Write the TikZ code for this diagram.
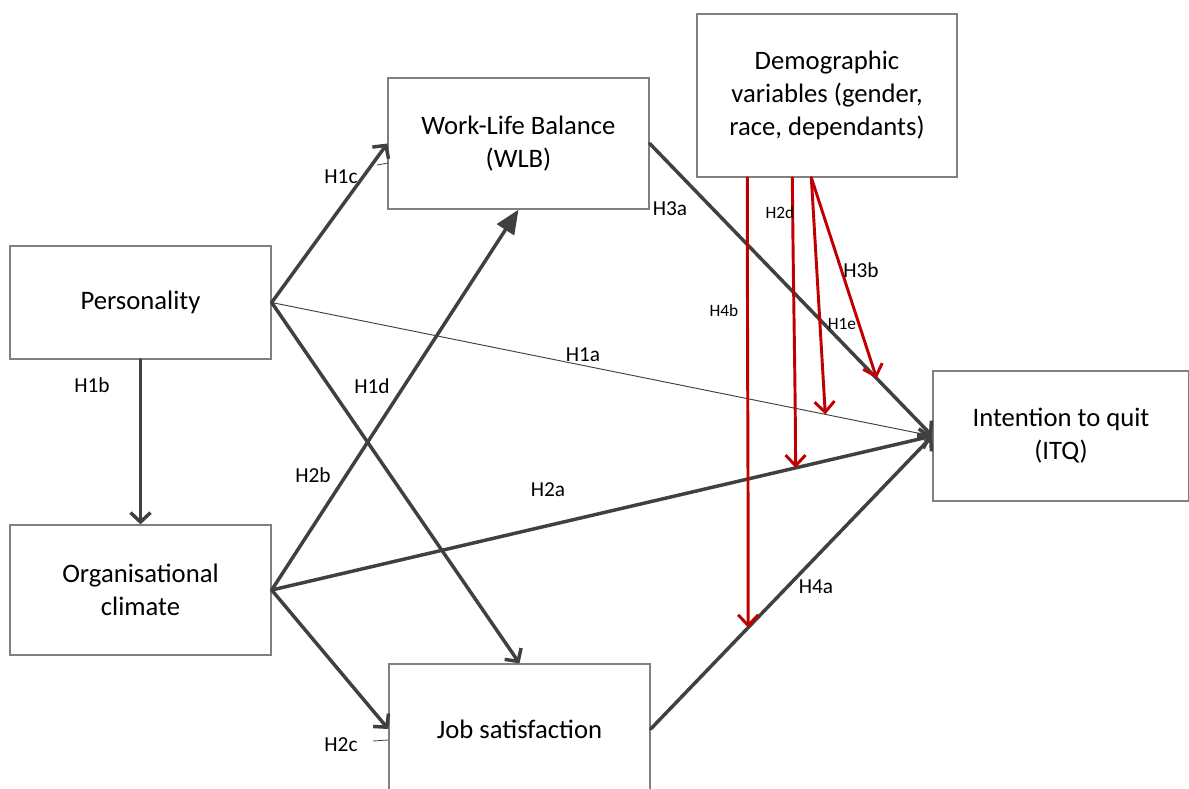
\documentclass[tikz,border=0pt]{standalone}
\usepackage{fontspec}
\setmainfont{Carlito}
\usetikzlibrary{arrows.meta,calc}
\definecolor{dk}{HTML}{404040}
\definecolor{bx}{HTML}{808080}
\definecolor{rd}{HTML}{C00000}
\begin{document}
\begin{tikzpicture}[x=0.75pt,y=-0.75pt,
  box/.style={draw=bx,line width=1pt,rectangle,inner sep=0pt,align=center,
    font=\fontsize{20}{24.75}\selectfont,text=black},
  conn/.style={draw=dk,line width=2.6pt,line cap=round,
    -{Straight Barb[length=7pt,width=15pt]}},
  thinconn/.style={draw=dk,line width=0.7pt,-{Straight Barb[length=5pt,width=10pt]}},
  filledconn/.style={draw=dk,line width=2.6pt,-{Triangle[length=18pt,width=15pt]}},
  redconn/.style={draw=rd,line width=2.2pt,line cap=round,
    -{Straight Barb[length=8pt,width=15pt]}},
  lab/.style={font=\fontsize{16}{19}\selectfont,text=black,inner sep=0pt},
  slab/.style={font=\fontsize{13}{16}\selectfont,text=black,inner sep=0pt},
  tick/.style={draw=dk,line width=0.6pt}]
\useasboundingbox (0,0) rectangle (1189,789);
\fill[white] (0,0) rectangle (1189,789);

% boxes
\node[box,minimum width=195.75pt,minimum height=84.75pt] (pers) at (140.5,302.5) {Personality};
\node[box,minimum width=195.75pt,minimum height=97.5pt] (org) at (140.5,590) {Organisational\\climate};
\node[box,minimum width=195.75pt,minimum height=98.25pt] (wlb) at (518.5,143.5) {Work-Life Balance\\(WLB)};
\node[box,minimum width=195pt,minimum height=122.25pt] (demo) at (827,95.5) {Demographic\\variables (gender,\\race, dependants)};
\node[box,minimum width=192pt,minimum height=97.5pt] (itq) at (1061,436) {Intention to quit\\(ITQ)};
\node[box,minimum width=195.75pt,minimum height=97.5pt] (job) at (519.5,729) {Job satisfaction};

% small tick marks
\coordinate (t1) at (377,165);
\coordinate (t2) at (373,741);
\draw[tick] (t1) -- (388,163);
\draw[tick] (t2) -- (388,740);

% dark connectors
\draw[thinconn] (pers.east) -- (itq.west);
\draw[conn] (pers.east) -- (wlb.west);
\draw[conn] (pers.east) -- (job.north);
\draw[conn] (pers.south) -- (org.north);
\draw[filledconn] (org.east) -- (wlb.south);
\draw[conn] (org.east) -- (itq.west);
\draw[conn] (org.east) -- (job.west);
\draw[conn] (wlb.east) -- (itq.west);
\draw[conn] (job.east) -- (itq.west);

% red moderator connectors
\coordinate (e4b) at ($(job.east)!0.346!(itq.west)$);
\coordinate (e2d) at ($(org.east)!0.793!(itq.west)$);
\coordinate (e1e) at ($(pers.east)!0.838!(itq.west)$);
\coordinate (e3b) at ($(wlb.east)!0.803!(itq.west)$);
\draw[redconn] ($(demo.south west)+(51,0)$) .. controls ($(demo.south west)+(51,200)$) and ($(demo.south west)+(52,300)$) .. (e4b);
\draw[redconn] ($(demo.south west)+(96,0)$) .. controls ($(demo.south west)+(97,120)$) and ($(demo.south west)+(99,200)$) .. (e2d);
\draw[redconn] ($(demo.south west)+(115,0)$) -- (e1e);
\draw[redconn] ($(demo.south west)+(115,0)$) -- (e3b);

% labels
\node[lab] (l1c) at (341,177) {H1c};
\node[lab] (l1b) at (92,385) {H1b};
\node[lab] (l1d) at (372,386) {H1d};
\node[lab] (l2b) at (313,475) {H2b};
\node[lab] (l1a) at (583,355) {H1a};
\node[lab] (l2a) at (548,490) {H2a};
\node[lab] (l2c) at (341,745) {H2c};
\node[lab] (l3a) at (670,209) {H3a};
\node[lab] (l4a) at (816,587) {H4a};
\node[lab] (l3b) at (861,270) {H3b};
\node[slab] (l4b) at (724,311) {H4b};
\node[slab] (l2d) at (780,213) {H2d};
\node[slab] (l1e) at (842,324) {H1e};
\end{tikzpicture}
\end{document}
